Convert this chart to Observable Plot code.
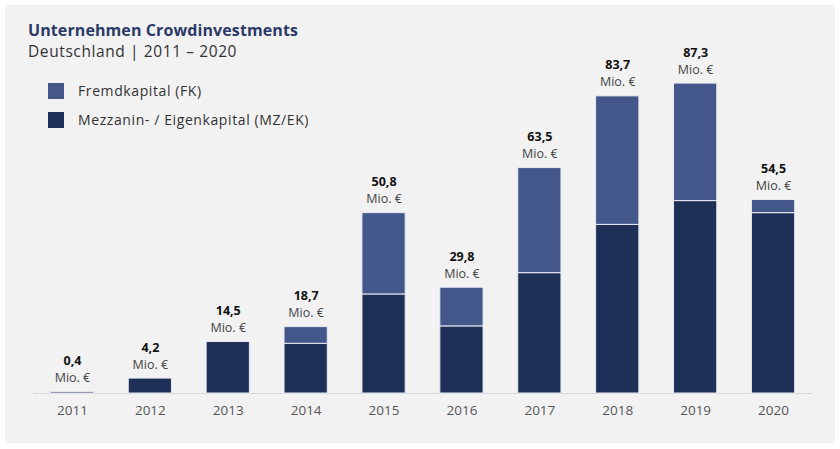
<!DOCTYPE html>
<html>
<head>
<meta charset="utf-8">
<script src="https://cdn.jsdelivr.net/npm/d3@7"></script>
<script src="https://cdn.jsdelivr.net/npm/@observablehq/plot@0.6"></script>
<style>
  html, body { margin: 0; padding: 0; background: #ffffff; }
  body { width: 840px; height: 449px; position: relative; overflow: hidden; font-family: "Open Sans", Lato, sans-serif; }
  #panel { position: absolute; left: 5px; top: 5px; width: 830px; height: 438px; background: #f2f2f2; }
  #title { position: absolute; left: 28px; top: 22px; font-size: 16px; line-height: 16px; font-weight: 700; color: #2b3a67; letter-spacing: 0.1px; }
  #subtitle { position: absolute; left: 28px; top: 43px; font-size: 15.5px; line-height: 16px; color: #333; letter-spacing: 0.6px; }
  .leg { position: absolute; left: 48px; font-size: 14px; color: #333; display: flex; align-items: center; letter-spacing: 0.6px; }
  .sw { width: 16px; height: 16px; margin-right: 14px; }
  #chart { position: absolute; left: 0; top: 0; }
</style>
</head>
<body>
<div id="panel"></div>
<div id="chart"></div>
<div id="title">Unternehmen Crowdinvestments</div>
<div id="subtitle">Deutschland | 2011 – 2020</div>
<div class="leg" style="top:81px"><div class="sw" style="background:#44578a"></div>Fremdkapital (FK)</div>
<div class="leg" style="top:110px"><div class="sw" style="background:#1e3057"></div>Mezzanin- / Eigenkapital (MZ/EK)</div>
<script>
const years = ["2011","2012","2013","2014","2015","2016","2017","2018","2019","2020"];
const mzek  = [0.4, 4.2, 14.5, 14.0, 27.9, 18.9, 33.9, 47.5, 54.2, 50.8];
const fk    = [0.0, 0.0, 0.0, 4.7, 22.9, 10.9, 29.6, 36.2, 33.1, 3.7];
const totals = [0.4, 4.2, 14.5, 18.7, 50.8, 29.8, 63.5, 83.7, 87.3, 54.5];
const totalLabels = ["0,4","4,2","14,5","18,7","50,8","29,8","63,5","83,7","87,3","54,5"];
const series = ["Mezzanin- / Eigenkapital (MZ/EK)", "Fremdkapital (FK)"];
const colors = ["#1e3057", "#44578a"];

const rows = [];
years.forEach((y, i) => {
  rows.push({year: y, series: series[0], value: mzek[i]});
  rows.push({year: y, series: series[1], value: fk[i]});
});
const tot = years.map((y, i) => ({year: y, total: totals[i], label: totalLabels[i]}));

const chart = Plot.plot({
  width: 840,
  height: 449,
  marginLeft: 33,
  marginRight: 28,
  marginTop: 38,
  marginBottom: 56,
  style: {background: "transparent", fontFamily: "'Open Sans', Lato, sans-serif"},
  x: {domain: years, paddingInner: 0.445, paddingOuter: 0.2225, round: false, label: null},
  y: {domain: [0, 100], axis: null},
  color: {domain: series, range: colors},
  marks: [
    Plot.ruleY([0], {stroke: "#d6d6d6", strokeWidth: 1.2}),
    Plot.barY(rows, Plot.stackY({x: "year", y: "value", fill: "series", order: series, stroke: "#e8ebf1", strokeWidth: 1})),
    Plot.text(tot, {x: "year", y: "total", text: "label", dy: -31, fontSize: 12.5, fontWeight: 700, fill: "#111"}),
    Plot.text(tot, {x: "year", y: "total", text: () => "Mio. €", dy: -14, fontSize: 12.5, fill: "#444"}),
    Plot.axisX({tickSize: 0, tickPadding: 12, fontSize: 13.5, color: "#555", label: null})
  ]
});
document.getElementById("chart").appendChild(chart);
</script>
</body>
</html>
